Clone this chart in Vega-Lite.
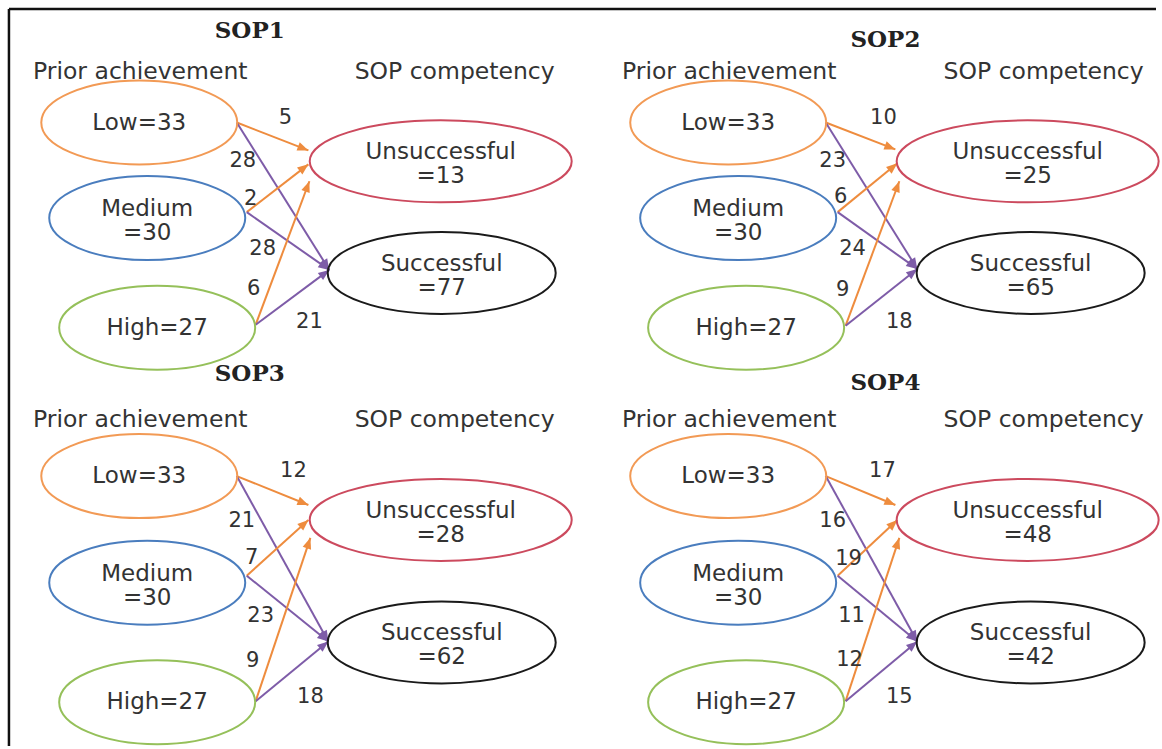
{
  "$schema": "https://vega.github.io/schema/vega-lite/v6.json",
  "width": 1162,
  "height": 749,
  "autosize": {"type": "fit", "contains": "padding"},
  "padding": 0,
  "background": "white",
  "config": {"view": {"stroke": null}},
  "datasets": {
    "frame": [
      {"x": 9, "y": 9, "x2": 1162, "y2": 9},
      {"x": 9, "y": 9, "x2": 9, "y2": 749}
    ],
    "nodes": [
      {"panel": "SOP1", "node": "Low", "kind": "left", "x": 140, "y": 123, "label": "Low=33"},
      {"panel": "SOP1", "node": "Medium", "kind": "left", "x": 148, "y": 219, "label": "Medium\n=30"},
      {"panel": "SOP1", "node": "High", "kind": "left", "x": 158, "y": 329, "label": "High=27"},
      {"panel": "SOP1", "node": "Unsuccessful", "kind": "unsucc", "x": 443, "y": 162, "label": "Unsuccessful\n=13"},
      {"panel": "SOP1", "node": "Successful", "kind": "succ", "x": 444, "y": 274, "label": "Successful\n=77"},
      {"panel": "SOP2", "node": "Low", "kind": "left", "x": 732, "y": 123, "label": "Low=33"},
      {"panel": "SOP2", "node": "Medium", "kind": "left", "x": 742, "y": 219, "label": "Medium\n=30"},
      {"panel": "SOP2", "node": "High", "kind": "left", "x": 750, "y": 329, "label": "High=27"},
      {"panel": "SOP2", "node": "Unsuccessful", "kind": "unsucc", "x": 1033, "y": 162, "label": "Unsuccessful\n=25"},
      {"panel": "SOP2", "node": "Successful", "kind": "succ", "x": 1036, "y": 274, "label": "Successful\n=65"},
      {"panel": "SOP3", "node": "Low", "kind": "left", "x": 140, "y": 478, "label": "Low=33"},
      {"panel": "SOP3", "node": "Medium", "kind": "left", "x": 148, "y": 585, "label": "Medium\n=30"},
      {"panel": "SOP3", "node": "High", "kind": "left", "x": 158, "y": 705, "label": "High=27"},
      {"panel": "SOP3", "node": "Unsuccessful", "kind": "unsucc", "x": 443, "y": 522, "label": "Unsuccessful\n=28"},
      {"panel": "SOP3", "node": "Successful", "kind": "succ", "x": 444, "y": 645, "label": "Successful\n=62"},
      {"panel": "SOP4", "node": "Low", "kind": "left", "x": 732, "y": 478, "label": "Low=33"},
      {"panel": "SOP4", "node": "Medium", "kind": "left", "x": 742, "y": 585, "label": "Medium\n=30"},
      {"panel": "SOP4", "node": "High", "kind": "left", "x": 750, "y": 705, "label": "High=27"},
      {"panel": "SOP4", "node": "Unsuccessful", "kind": "unsucc", "x": 1033, "y": 522, "label": "Unsuccessful\n=48"},
      {"panel": "SOP4", "node": "Successful", "kind": "succ", "x": 1036, "y": 645, "label": "Successful\n=42"}
    ],
    "edges": [
      {"panel": "SOP1", "from": "Low", "to": "Unsuccessful", "n": 5, "x": 238, "y": 123, "x2": 310, "y2": 151, "lx": 287, "ly": 118},
      {"panel": "SOP1", "from": "Low", "to": "Successful", "n": 28, "x": 238, "y": 123, "x2": 331, "y2": 271, "lx": 244, "ly": 162},
      {"panel": "SOP1", "from": "Medium", "to": "Unsuccessful", "n": 2, "x": 248, "y": 213, "x2": 310, "y2": 165, "lx": 252, "ly": 200},
      {"panel": "SOP1", "from": "Medium", "to": "Successful", "n": 28, "x": 248, "y": 213, "x2": 331, "y2": 271, "lx": 264, "ly": 250},
      {"panel": "SOP1", "from": "High", "to": "Unsuccessful", "n": 6, "x": 257, "y": 326, "x2": 311, "y2": 182, "lx": 255, "ly": 290},
      {"panel": "SOP1", "from": "High", "to": "Successful", "n": 21, "x": 257, "y": 326, "x2": 331, "y2": 271, "lx": 311, "ly": 323},
      {"panel": "SOP2", "from": "Low", "to": "Unsuccessful", "n": 10, "x": 830, "y": 123, "x2": 900, "y2": 150, "lx": 888, "ly": 118},
      {"panel": "SOP2", "from": "Low", "to": "Successful", "n": 23, "x": 830, "y": 123, "x2": 922, "y2": 270, "lx": 837, "ly": 162},
      {"panel": "SOP2", "from": "Medium", "to": "Unsuccessful", "n": 6, "x": 842, "y": 213, "x2": 902, "y2": 164, "lx": 845, "ly": 198},
      {"panel": "SOP2", "from": "Medium", "to": "Successful", "n": 24, "x": 842, "y": 213, "x2": 922, "y2": 270, "lx": 857, "ly": 250},
      {"panel": "SOP2", "from": "High", "to": "Unsuccessful", "n": 9, "x": 850, "y": 327, "x2": 904, "y2": 182, "lx": 847, "ly": 291},
      {"panel": "SOP2", "from": "High", "to": "Successful", "n": 18, "x": 850, "y": 327, "x2": 922, "y2": 270, "lx": 904, "ly": 323},
      {"panel": "SOP3", "from": "Low", "to": "Unsuccessful", "n": 12, "x": 238, "y": 478, "x2": 310, "y2": 507, "lx": 295, "ly": 473},
      {"panel": "SOP3", "from": "Low", "to": "Successful", "n": 21, "x": 238, "y": 478, "x2": 330, "y2": 644, "lx": 243, "ly": 523},
      {"panel": "SOP3", "from": "Medium", "to": "Unsuccessful", "n": 7, "x": 248, "y": 578, "x2": 310, "y2": 522, "lx": 253, "ly": 560},
      {"panel": "SOP3", "from": "Medium", "to": "Successful", "n": 23, "x": 248, "y": 578, "x2": 330, "y2": 644, "lx": 262, "ly": 618},
      {"panel": "SOP3", "from": "High", "to": "Unsuccessful", "n": 9, "x": 257, "y": 704, "x2": 312, "y2": 540, "lx": 254, "ly": 664},
      {"panel": "SOP3", "from": "High", "to": "Successful", "n": 18, "x": 257, "y": 704, "x2": 330, "y2": 644, "lx": 312, "ly": 700},
      {"panel": "SOP4", "from": "Low", "to": "Unsuccessful", "n": 17, "x": 830, "y": 478, "x2": 900, "y2": 507, "lx": 887, "ly": 473},
      {"panel": "SOP4", "from": "Low", "to": "Successful", "n": 16, "x": 830, "y": 478, "x2": 922, "y2": 644, "lx": 837, "ly": 523},
      {"panel": "SOP4", "from": "Medium", "to": "Unsuccessful", "n": 19, "x": 842, "y": 578, "x2": 902, "y2": 522, "lx": 853, "ly": 561},
      {"panel": "SOP4", "from": "Medium", "to": "Successful", "n": 11, "x": 842, "y": 578, "x2": 922, "y2": 644, "lx": 856, "ly": 618},
      {"panel": "SOP4", "from": "High", "to": "Unsuccessful", "n": 12, "x": 850, "y": 704, "x2": 904, "y2": 540, "lx": 854, "ly": 663},
      {"panel": "SOP4", "from": "High", "to": "Successful", "n": 15, "x": 850, "y": 704, "x2": 922, "y2": 644, "lx": 904, "ly": 700}
    ],
    "headers": [
      {"panel": "SOP1", "text": "Prior achievement", "x": 141, "y": 72},
      {"panel": "SOP1", "text": "SOP competency", "x": 457, "y": 72},
      {"panel": "SOP2", "text": "Prior achievement", "x": 733, "y": 72},
      {"panel": "SOP2", "text": "SOP competency", "x": 1049, "y": 72},
      {"panel": "SOP3", "text": "Prior achievement", "x": 141, "y": 422},
      {"panel": "SOP3", "text": "SOP competency", "x": 457, "y": 422},
      {"panel": "SOP4", "text": "Prior achievement", "x": 733, "y": 422},
      {"panel": "SOP4", "text": "SOP competency", "x": 1049, "y": 422}
    ],
    "titles": [
      {"text": "SOP1", "x": 251, "y": 31},
      {"text": "SOP2", "x": 890, "y": 40},
      {"text": "SOP3", "x": 251, "y": 376},
      {"text": "SOP4", "x": 890, "y": 385}
    ]
  },
  "layer": [
    {
      "data": {"name": "frame"},
      "mark": {"type": "rule", "color": "#111111", "strokeWidth": 2.5},
      "encoding": {
        "x": {"field": "x", "type": "quantitative", "scale": {"domain": [0, 1162], "nice": false, "zero": false}, "axis": null},
        "y": {"field": "y", "type": "quantitative", "scale": {"domain": [0, 749], "nice": false, "zero": false, "reverse": true}, "axis": null},
        "x2": {"field": "x2"},
        "y2": {"field": "y2"}
      }
    },
    {
      "data": {"name": "edges"},
      "mark": {"type": "rule", "strokeWidth": 2},
      "encoding": {
        "x": {"field": "x", "type": "quantitative", "scale": {"domain": [0, 1162], "nice": false, "zero": false}, "axis": null},
        "y": {"field": "y", "type": "quantitative", "scale": {"domain": [0, 749], "nice": false, "zero": false, "reverse": true}, "axis": null},
        "x2": {"field": "x2"},
        "y2": {"field": "y2"},
        "color": {"field": "to", "type": "nominal", "scale": {"domain": ["Unsuccessful", "Successful"], "range": ["#EE8C3E", "#7E5CA8"]}, "legend": null}
      }
    },
    {
      "data": {"name": "edges"},
      "transform": [
        {"calculate": "atan2(datum.y2 - datum.y, datum.x2 - datum.x) * 180 / PI", "as": "ang"}
      ],
      "mark": {"type": "point", "shape": "M0,0L-2,-0.8L-2,0.8Z", "filled": true, "size": 121, "opacity": 1, "strokeWidth": 0},
      "encoding": {
        "x": {"field": "x2", "type": "quantitative", "scale": {"domain": [0, 1162], "nice": false, "zero": false}, "axis": null},
        "y": {"field": "y2", "type": "quantitative", "scale": {"domain": [0, 749], "nice": false, "zero": false, "reverse": true}, "axis": null},
        "angle": {"field": "ang", "type": "quantitative", "scale": null},
        "color": {"field": "to", "type": "nominal", "scale": {"domain": ["Unsuccessful", "Successful"], "range": ["#EE8C3E", "#7E5CA8"]}, "legend": null}
      }
    },
    {
      "data": {"name": "nodes"},
      "mark": {"type": "point", "filled": false, "size": 4, "strokeWidth": 2, "opacity": 1},
      "encoding": {
        "x": {"field": "x", "type": "quantitative", "scale": {"domain": [0, 1162], "nice": false, "zero": false}, "axis": null},
        "y": {"field": "y", "type": "quantitative", "scale": {"domain": [0, 749], "nice": false, "zero": false, "reverse": true}, "axis": null},
        "shape": {"field": "kind", "type": "nominal", "scale": {"domain": ["left", "unsucc", "succ"], "range": ["M-98,0A98,42 0 1,1 98,0A98,42 0 1,1 -98,0Z", "M-131,0A131,41 0 1,1 131,0A131,41 0 1,1 -131,0Z", "M-114,0A114,41 0 1,1 114,0A114,41 0 1,1 -114,0Z"]}, "legend": null},
        "stroke": {"field": "node", "type": "nominal", "scale": {"domain": ["Low", "Medium", "High", "Unsuccessful", "Successful"], "range": ["#F29A55", "#4A7DBE", "#95C05A", "#CC4A5E", "#1A1A1A"]}, "legend": null}
      }
    },
    {
      "data": {"name": "nodes"},
      "transform": [{"filter": "datum.node == 'Low' || datum.node == 'High'"}],
      "mark": {"type": "text", "align": "center", "baseline": "middle", "font": "DejaVu Sans", "fontSize": 23, "color": "#333333"},
      "encoding": {
        "x": {"field": "x", "type": "quantitative", "scale": {"domain": [0, 1162], "nice": false, "zero": false}, "axis": null},
        "y": {"field": "y", "type": "quantitative", "scale": {"domain": [0, 749], "nice": false, "zero": false, "reverse": true}, "axis": null},
        "text": {"field": "label", "type": "nominal"}
      }
    },
    {
      "data": {"name": "nodes"},
      "transform": [{"filter": "datum.node != 'Low' && datum.node != 'High'"}],
      "mark": {"type": "text", "align": "center", "baseline": "middle", "lineBreak": "\n", "lineHeight": 24, "dy": -9, "font": "DejaVu Sans", "fontSize": 23, "color": "#333333"},
      "encoding": {
        "x": {"field": "x", "type": "quantitative", "scale": {"domain": [0, 1162], "nice": false, "zero": false}, "axis": null},
        "y": {"field": "y", "type": "quantitative", "scale": {"domain": [0, 749], "nice": false, "zero": false, "reverse": true}, "axis": null},
        "text": {"field": "label", "type": "nominal"}
      }
    },
    {
      "data": {"name": "edges"},
      "mark": {"type": "text", "align": "center", "baseline": "middle", "font": "DejaVu Sans", "fontSize": 21, "color": "#333333"},
      "encoding": {
        "x": {"field": "lx", "type": "quantitative", "scale": {"domain": [0, 1162], "nice": false, "zero": false}, "axis": null},
        "y": {"field": "ly", "type": "quantitative", "scale": {"domain": [0, 749], "nice": false, "zero": false, "reverse": true}, "axis": null},
        "text": {"field": "n", "type": "quantitative"}
      }
    },
    {
      "data": {"name": "headers"},
      "mark": {"type": "text", "align": "center", "baseline": "middle", "font": "DejaVu Sans", "fontSize": 23.5, "color": "#333333"},
      "encoding": {
        "x": {"field": "x", "type": "quantitative", "scale": {"domain": [0, 1162], "nice": false, "zero": false}, "axis": null},
        "y": {"field": "y", "type": "quantitative", "scale": {"domain": [0, 749], "nice": false, "zero": false, "reverse": true}, "axis": null},
        "text": {"field": "text", "type": "nominal"}
      }
    },
    {
      "data": {"name": "titles"},
      "mark": {"type": "text", "align": "center", "baseline": "middle", "font": "DejaVu Serif", "fontWeight": "bold", "fontSize": 23, "color": "#222222"},
      "encoding": {
        "x": {"field": "x", "type": "quantitative", "scale": {"domain": [0, 1162], "nice": false, "zero": false}, "axis": null},
        "y": {"field": "y", "type": "quantitative", "scale": {"domain": [0, 749], "nice": false, "zero": false, "reverse": true}, "axis": null},
        "text": {"field": "text", "type": "nominal"}
      }
    }
  ]
}
